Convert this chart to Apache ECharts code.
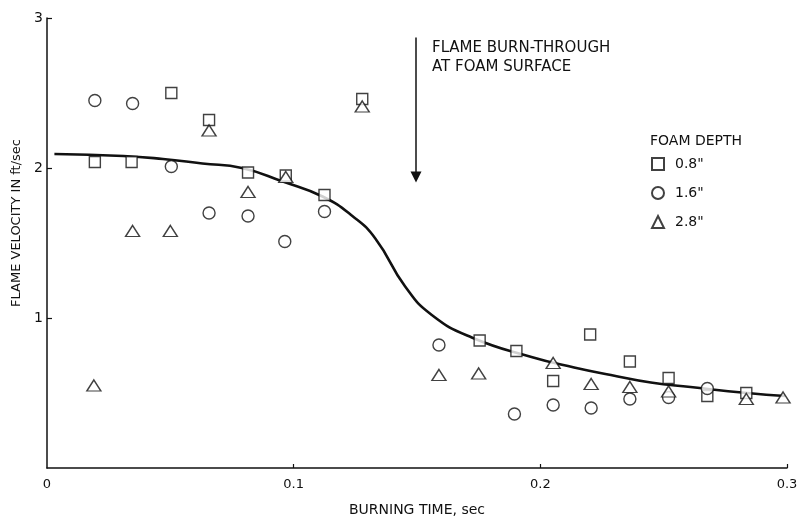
<!DOCTYPE html>
<html>
<head>
<meta charset="utf-8">
<script src="https://cdn.jsdelivr.net/npm/echarts@6/dist/echarts.min.js"></script>
<style>
html,body{margin:0;padding:0;background:#fff;}
#chart{width:809px;height:522px;}
</style>
</head>
<body>
<div id="chart"></div>
<script>
// ---- data ----
const xTickLabels = [0, 0.1, 0.2, 0.3];
const yTickLabels = [1, 2, 3];
const legendNames = ['0.8"', '1.6"', '2.8"'];

const squareX = [0.0194,0.0343,0.0504,0.0657,0.0815,0.0968,0.1125,0.1278,0.1754,0.1903,0.2052,0.2202,0.2363,0.2520,0.2677,0.2835];
const squareY = [2.04,2.04,2.50,2.32,1.97,1.95,1.82,2.46,0.85,0.78,0.58,0.89,0.71,0.60,0.48,0.50];

const circleX = [0.0194,0.0347,0.0504,0.0657,0.0815,0.0964,0.1125,0.1589,0.1895,0.2052,0.2206,0.2363,0.2520,0.2677];
const circleY = [2.45,2.43,2.01,1.70,1.68,1.51,1.71,0.82,0.36,0.42,0.40,0.46,0.47,0.53];

const triangleX = [0.0190,0.0347,0.0500,0.0657,0.0815,0.0968,0.1278,0.1589,0.1750,0.2052,0.2206,0.2363,0.2520,0.2835,0.2984];
const triangleY = [0.55,1.58,1.58,2.25,1.84,1.94,2.41,0.62,0.63,0.70,0.56,0.54,0.51,0.46,0.47];

const curveX = [0.003,0.031,0.047,0.063,0.079,0.0956,0.1117,0.1238,0.1331,0.1452,0.156,0.1722,0.1964,0.2137,0.2286,0.2448,0.2609,0.2839,0.2992];
const curveY = [2.093,2.08,2.06,2.03,2.00,1.91,1.81,1.68,1.53,1.21,1.02,0.87,0.74,0.67,0.62,0.57,0.54,0.50,0.48];

const arrowX = 0.1496;
const arrowTop = 2.87;
const arrowBottom = 1.94;

// ---- build ----
const zip = (xs, ys) => xs.map((x, i) => [x, ys[i]]);
const ink = '#111';
const font = 'DejaVu Sans';
const markerStyle = {color: '#fff', borderColor: ink, borderWidth: 1.4};

const chart = echarts.init(document.getElementById('chart'), null, {renderer: 'canvas'});
chart.setOption({
  animation: false,
  backgroundColor: '#fff',
  grid: {left: 47, right: 22, top: 18, bottom: 51, containLabel: false},
  xAxis: {
    type: 'value', min: 0, max: 0.3, interval: 0.1,
    axisLine: {lineStyle: {color: ink, width: 1.5}},
    axisTick: {show: true, inside: true, length: 4, customValues: [0.1, 0.2, 0.3], lineStyle: {color: ink, width: 1.2}},
    splitLine: {show: false},
    axisLabel: {customValues: xTickLabels, color: ink, fontFamily: font, fontSize: 13, margin: 10,
      formatter: v => (Math.abs(v) < 1e-9 ? '0' : v.toFixed(1))},
    name: 'BURNING TIME, sec', nameLocation: 'middle', nameGap: 35,
    nameTextStyle: {color: ink, fontFamily: font, fontSize: 14}
  },
  yAxis: {
    type: 'value', min: 0, max: 3, interval: 1,
    axisLine: {show: true, onZero: false, lineStyle: {color: ink, width: 1.5}},
    axisTick: {show: true, inside: true, length: 5, customValues: yTickLabels, lineStyle: {color: ink, width: 1.2}},
    splitLine: {show: false},
    axisLabel: {customValues: yTickLabels, color: ink, fontFamily: font, fontSize: 14, margin: 4}
  },
  legend: {
    orient: 'vertical', left: 651, top: 157, padding: 0,
    itemWidth: 12, itemHeight: 12, itemGap: 15,
    data: legendNames,
    textStyle: {color: ink, fontFamily: font, fontSize: 14, padding: [0, 0, 0, 6]}
  },
  graphic: [
    {type: 'text', left: 432, top: 39, silent: true,
      style: {text: 'FLAME BURN-THROUGH\nAT FOAM SURFACE', fill: ink, font: '15px "DejaVu Sans"', lineHeight: 19}},
    {type: 'text', left: 650, top: 134, silent: true,
      style: {text: 'FOAM DEPTH', fill: ink, font: '14px "DejaVu Sans"'}},
    {type: 'text', x: 17, y: 223, rotation: Math.PI / 2, silent: true,
      style: {text: 'FLAME VELOCITY IN ft/sec', fill: ink, font: '13px "DejaVu Sans"', align: 'center', verticalAlign: 'middle'}}
  ],
  series: [
    {
      name: 'curve', type: 'line', data: zip(curveX, curveY), smooth: 0.5, showSymbol: false, symbol: 'none',
      lineStyle: {color: ink, width: 2.6}, z: 1, silent: true,
      markLine: {
        silent: true, symbol: ['none', 'triangle'], symbolSize: 11,
        label: {show: false},
        lineStyle: {color: ink, width: 1.5, type: 'solid'},
        data: [[{coord: [arrowX, arrowTop]}, {coord: [arrowX, arrowBottom]}]]
      }
    },
    {name: legendNames[0], type: 'scatter', data: zip(squareX, squareY), symbol: 'rect', symbolSize: 11, itemStyle: markerStyle, z: 3},
    {name: legendNames[1], type: 'scatter', data: zip(circleX, circleY), symbol: 'circle', symbolSize: 12, itemStyle: markerStyle, z: 3},
    {name: legendNames[2], type: 'scatter', data: zip(triangleX, triangleY), symbol: 'triangle', symbolSize: [14, 11], itemStyle: markerStyle, z: 3}
  ]
});
</script>
</body>
</html>
